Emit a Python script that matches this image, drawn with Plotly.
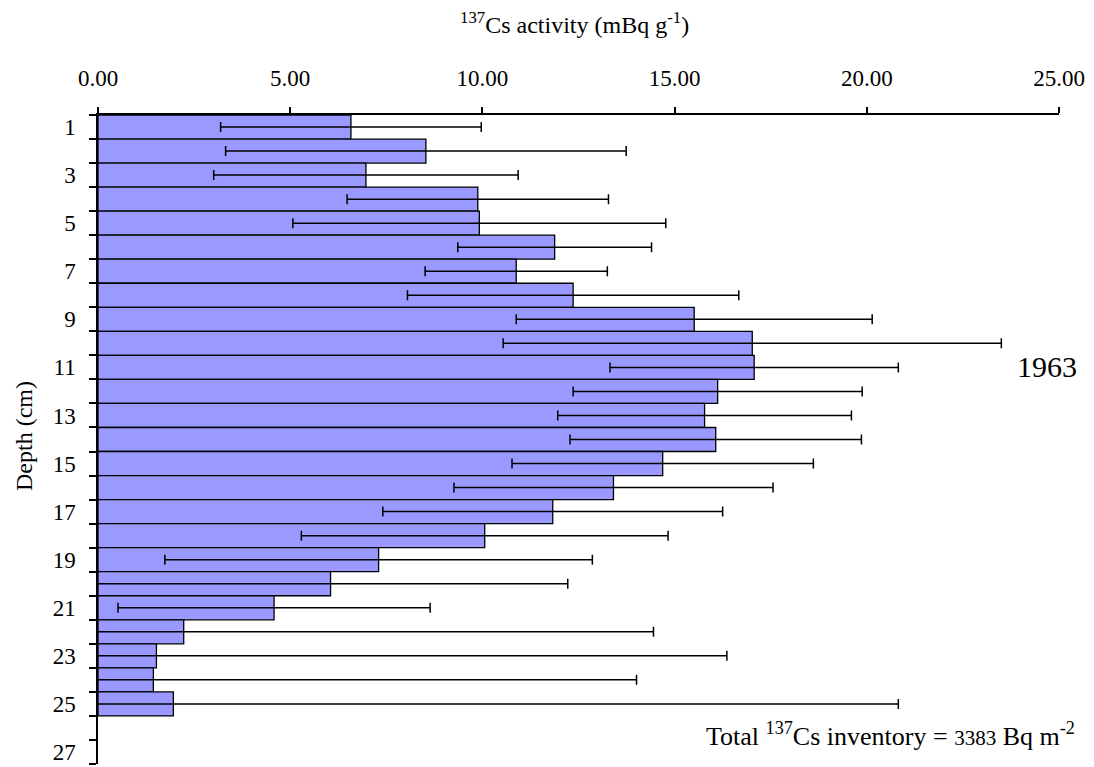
import plotly.graph_objects as go

# Sediment core: 137Cs activity per 1 cm depth slice
depth_cm = list(range(1, 26))
activity = [6.58, 8.53, 6.97, 9.88, 9.92, 11.88, 10.88, 12.36, 15.51, 17.02,
            17.07, 16.12, 15.78, 16.07, 14.69, 13.41, 11.83, 10.06, 7.30, 6.05,
            4.58, 2.23, 1.52, 1.44, 1.96]
activity_err = [3.39, 5.21, 3.96, 3.40, 4.85, 2.52, 2.37, 4.31, 4.63, 6.48,
                3.75, 3.76, 3.82, 3.79, 3.92, 4.15, 4.42, 4.77, 5.56, 6.17,
                4.06, 12.22, 14.84, 12.57, 18.86]
depth_labels = list(range(1, 28, 2))
activity_ticks = [0, 5, 10, 15, 20, 25]

W, H = 1094, 767
L, R, T, B = 98, 35, 115, 3
FONT = "Liberation Serif, Times New Roman, serif"


def px_x(px):
    return (px - L) / (W - L - R)


def px_y(py):
    return 1 - (py - T) / (H - T - B)


fig = go.Figure(go.Bar(
    x=activity,
    y=depth_cm,
    orientation="h",
    width=1.0,
    marker=dict(color="#9999FF", line=dict(color="black", width=1.3)),
    error_x=dict(type="data", array=activity_err, symmetric=True,
                 color="black", thickness=1.5, width=5),
))

fig.update_layout(
    width=W, height=H,
    margin=dict(l=L, r=R, t=T, b=B, autoexpand=False),
    paper_bgcolor="white", plot_bgcolor="white",
    showlegend=False,
    font=dict(family=FONT, color="black"),
    xaxis=dict(
        range=[0, 25], side="top",
        tickvals=activity_ticks,
        ticktext=[f"{v:.2f}" for v in activity_ticks],
        ticks="outside", ticklen=6, tickwidth=1.5, tickcolor="black",
        ticklabelstandoff=12,
        showline=True, linecolor="black", linewidth=1.5,
        showgrid=False, zeroline=False, automargin=False,
        tickfont=dict(family=FONT, size=23, color="black"),
    ),
    yaxis=dict(
        range=[27.5, 0.5],
        tickvals=depth_labels,
        ticktext=[str(v) for v in depth_labels],
        ticks="", ticklabelstandoff=16,
        minor=dict(tickvals=[i + 0.5 for i in range(28)], ticks="outside",
                   ticklen=7, tickwidth=1.5, tickcolor="black"),
        showline=True, linecolor="black", linewidth=1.5,
        showgrid=False, zeroline=False, automargin=False,
        tickfont=dict(family=FONT, size=23, color="black"),
    ),
)

annotations = [
    dict(text="<sup>137</sup>Cs activity (mBq g<sup>-1</sup>)",
         x=px_x(574), y=px_y(23), font=dict(size=24)),
    dict(text="Depth (cm)", textangle=-90,
         x=px_x(24), y=px_y(436), font=dict(size=24)),
    dict(text="1963", x=px_x(1047), y=px_y(366), font=dict(size=30)),
    dict(text="Total <sup>137</sup>Cs inventory = "
              "<span style=\"font-size:21px\">3383</span> Bq m<sup>-2</sup>",
         x=px_x(1077), y=px_y(734), xanchor="right", font=dict(size=26)),
]
for a in annotations:
    a.setdefault("xanchor", "center")
    fig.add_annotation(xref="paper", yref="paper", yanchor="middle",
                       showarrow=False, **a)

fig.write_html("out.html")
